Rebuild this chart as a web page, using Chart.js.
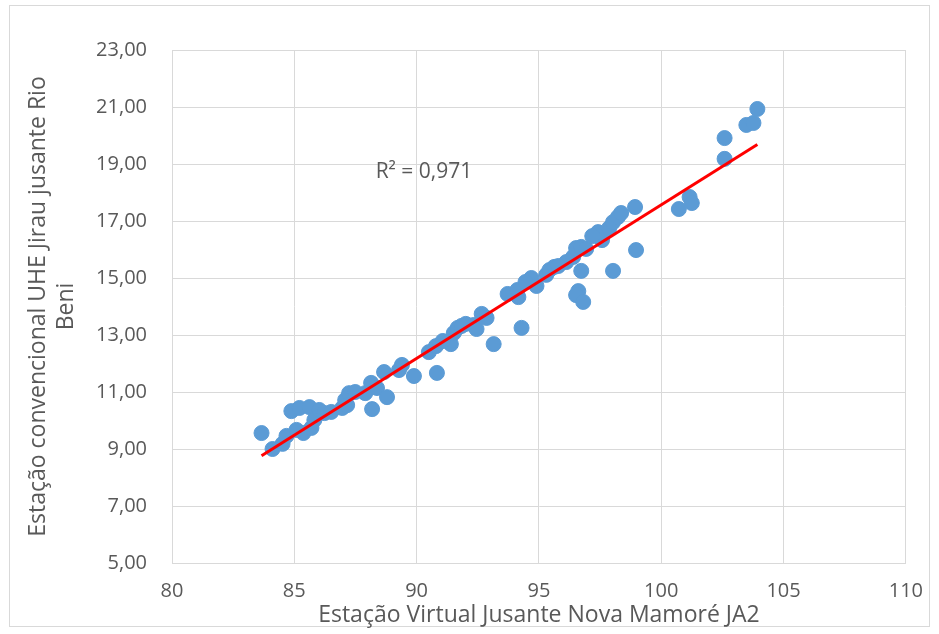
<!DOCTYPE html>
<html>
<head>
<meta charset="utf-8">
<script src="https://cdn.jsdelivr.net/npm/chart.js@4/dist/chart.umd.min.js"></script>
<style>
  html, body { margin: 0; padding: 0; background: #fff; }
  #wrap { width: 939px; height: 634px; position: relative; }
</style>
</head>
<body>
<div id="wrap"><canvas id="chart" width="939" height="634"></canvas></div>
<script>
// Estação Virtual Jusante Nova Mamoré JA2 (x) vs Estação convencional UHE Jirau (y)
const xValues = [
  83.66, 84.11, 84.52, 84.68, 84.88, 85.09, 85.21, 85.37, 85.62, 85.70,
  85.82, 86.02, 86.23, 86.51, 86.96, 87.08, 87.24, 87.49, 87.16, 87.90,
  88.14, 88.18, 88.38, 88.67, 88.79, 89.28, 89.40, 89.89, 90.50, 90.79,
  90.83, 91.40, 91.52, 91.68, 92.01, 92.33, 92.45, 92.66, 93.15, 93.72,
  94.12, 94.16, 94.29, 94.69, 94.90, 95.30, 95.43, 95.63, 96.12, 96.40,
  96.52, 96.73, 96.93, 96.73, 96.61, 96.52, 96.81, 97.42, 97.58, 97.87,
  98.03, 98.23, 98.36, 98.03, 98.93, 98.97, 100.72, 101.16, 101.25, 102.59,
  102.59, 103.48, 103.77, 103.93, 97.18, 95.79, 94.45, 92.86, 91.84, 91.07
];
const yValues = [
  9.56, 9.00, 9.18, 9.46, 10.33, 9.67, 10.44, 9.56, 10.47, 9.74,
  10.02, 10.37, 10.26, 10.30, 10.44, 10.72, 10.96, 11.00, 10.54, 10.96,
  11.32, 10.40, 11.14, 11.70, 10.82, 11.77, 11.95, 11.56, 12.40, 12.61,
  11.67, 12.68, 13.07, 13.25, 13.39, 13.35, 13.21, 13.74, 12.68, 14.44,
  14.58, 14.33, 13.25, 15.00, 14.72, 15.11, 15.28, 15.39, 15.56, 15.74,
  16.05, 16.09, 16.02, 15.25, 14.54, 14.40, 14.16, 16.61, 16.33, 16.75,
  16.96, 17.14, 17.28, 15.25, 17.49, 15.98, 17.42, 17.84, 17.63, 19.91,
  19.18, 20.37, 20.44, 20.93, 16.47, 15.42, 14.86, 13.60, 13.32, 12.79
];
const xTicks = [80, 85, 90, 95, 100, 105, 110];
const yTicks = [5, 7, 9, 11, 13, 15, 17, 19, 21, 23];
const r2Label = 'R² = 0,971';

const points = xValues.map((x, i) => ({ x: x, y: yValues[i] }));

// linear trendline (least squares) from the points
const n = xValues.length;
const mx = xValues.reduce((a, b) => a + b, 0) / n;
const my = yValues.reduce((a, b) => a + b, 0) / n;
let sxy = 0, sxx = 0;
for (let i = 0; i < n; i++) {
  sxy += (xValues[i] - mx) * (yValues[i] - my);
  sxx += (xValues[i] - mx) * (xValues[i] - mx);
}
const slope = sxy / sxx;
const intercept = my - slope * mx;
const xMin = Math.min(...xValues), xMax = Math.max(...xValues);
const trend = [
  { x: xMin, y: intercept + slope * xMin },
  { x: xMax, y: intercept + slope * xMax }
];

const FONT = "'Open Sans', 'Noto Sans', sans-serif";
const GREY = '#595959';

const extras = {
  id: 'extras',
  beforeDraw(chart) {
    const ctx = chart.ctx;
    ctx.save();
    ctx.fillStyle = '#fff';
    ctx.fillRect(0, 0, chart.width, chart.height);
    ctx.strokeStyle = '#d9d9d9';
    ctx.lineWidth = 1;
    ctx.strokeRect(9.5, 5.5, 920, 621);
    ctx.restore();
  },
  afterDatasetsDraw(chart) {
    const ctx = chart.ctx;
    const xs = chart.scales.x, ys = chart.scales.y;
    ctx.save();
    ctx.fillStyle = GREY;
    ctx.font = '21px ' + FONT;
    ctx.textAlign = 'center';
    ctx.textBaseline = 'middle';
    ctx.fillText(r2Label, xs.getPixelForValue(90.3), ys.getPixelForValue(18.72));
    ctx.restore();
  }
};

new Chart(document.getElementById('chart').getContext('2d'), {
  type: 'scatter',
  data: {
    datasets: [
      {
        label: 'dados',
        data: points,
        backgroundColor: '#5b9bd5',
        borderColor: '#5b9bd5',
        pointRadius: 7.5,
        pointHoverRadius: 7.5,
        order: 2
      },
      {
        label: 'tendência',
        type: 'line',
        data: trend,
        borderColor: '#ff0000',
        borderWidth: 3,
        pointRadius: 0,
        fill: false,
        order: 1
      }
    ]
  },
  options: {
    responsive: false,
    animation: false,
    events: [],
    layout: { padding: { left: 0, right: 30, top: 50, bottom: 0 } },
    plugins: {
      legend: { display: false },
      tooltip: { enabled: false }
    },
    scales: {
      x: {
        type: 'linear',
        min: 80,
        max: 110,
        afterBuildTicks: s => { s.ticks = xTicks.map(v => ({ value: v })); },
        afterFit: s => { s.height = 71; },
        grid: { color: '#d9d9d9', lineWidth: 1, drawTicks: false },
        border: { color: '#d9d9d9' },
        ticks: { color: GREY, font: { family: FONT, size: 20 }, padding: 16 },
        title: {
          display: true,
          text: 'Estação Virtual Jusante Nova Mamoré JA2',
          color: GREY,
          font: { family: FONT, size: 23 },
          padding: { top: 0, bottom: 5 }
        }
      },
      y: {
        type: 'linear',
        min: 5,
        max: 23,
        afterBuildTicks: s => { s.ticks = yTicks.map(v => ({ value: v })); },
        afterFit: s => { s.width = 172; },
        grid: { color: '#d9d9d9', lineWidth: 1, drawTicks: false },
        border: { color: '#d9d9d9' },
        ticks: {
          color: GREY,
          font: { family: FONT, size: 20 },
          padding: 25,
          callback: v => v.toFixed(2).replace('.', ',')
        },
        title: {
          display: true,
          text: ['Estação convencional UHE Jirau jusante Rio', 'Beni'],
          color: GREY,
          font: { family: FONT, size: 23, lineHeight: 1.2 },
          padding: { top: 25, bottom: 0 }
        }
      }
    }
  },
  plugins: [extras]
});
</script>
</body>
</html>
